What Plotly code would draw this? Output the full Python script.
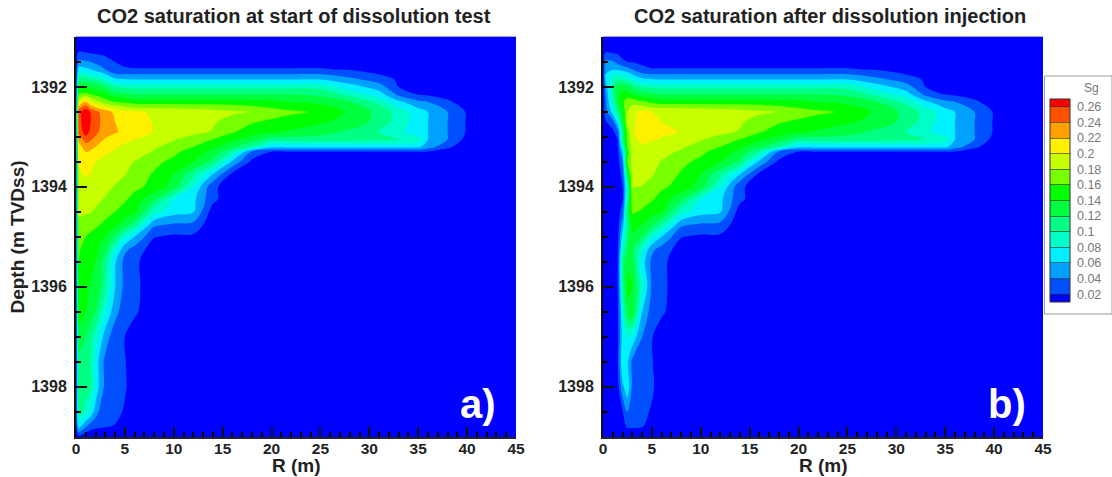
import numpy as np
import plotly.graph_objects as go

TITLE_A = "CO2 saturation at start of dissolution test"
TITLE_B = "CO2 saturation after dissolution injection"
LEVEL_LABELS = ["0.26", "0.24", "0.22", "0.2", "0.18", "0.16", "0.14", "0.12", "0.1", "0.08", "0.06", "0.04", "0.02"]
LEVEL_VALUES = [0.26, 0.24, 0.22, 0.20, 0.18, 0.16, 0.14, 0.12, 0.10, 0.08, 0.06, 0.04, 0.02]
BAND_COLORS = ["rgb(0,0,255)", "rgb(0,80,255)", "rgb(0,160,255)", "rgb(0,240,255)", "rgb(0,255,200)",
               "rgb(0,255,130)", "rgb(0,255,60)", "rgb(0,255,0)", "rgb(120,255,0)", "rgb(200,255,0)",
               "rgb(255,240,0)", "rgb(255,160,0)", "rgb(255,80,0)", "rgb(255,0,0)"]

depth = [1391, 1391.3, 1391.5, 1391.65, 1391.75, 1391.85, 1392, 1392.15, 1392.3, 1392.5, 1392.7, 1392.9,
         1393.05, 1393.2, 1393.3, 1393.5, 1393.75, 1394, 1394.25, 1394.5, 1394.75, 1395, 1395.25, 1395.5,
         1396, 1396.5, 1397, 1397.5, 1398, 1398.5, 1398.8, 1399]
r_near = [0, 0.25, 1, 1.5, 2, 2.5, 3, 4, 5, 6]
r_far = [8, 10, 12, 14, 16, 18, 20, 22, 25, 28, 31, 33, 35, 36, 38, 40, 41, 45]

# Sg in percent, one row per depth, R >= 8 m (same in both panels)
sg_far = [
 [.5]*18,
 [1]*10 + [.9, .8, .7, .6, .5, .5, .5, .5],
 [1.5]*9 + [1.4, 1, .8, .6, .5, .5, .5, .5, .5],
 [2.1]*9 + [1.9, 1.4, 1, .5, .5, .5, .5, .5, .5],
 [4.1]*9 + [3, 2, 1.3, .8, .5, .5, .5, .5, .5],
 [6]*9 + [4.6, 3, 1.7, 1, .8, .5, .5, .5, .5],
 [9.5]*9 + [7, 5, 2, 1.4, 1.2, .8, .5, .5, .5],
 [12, 12, 12, 12, 12, 12, 12, 12, 11.5, 9.5, 7, 3.5, 2, 1.7, 1.2, .6, .5, .5],
 [15, 15, 15, 15, 15, 14.7, 14.5, 14, 13.5, 12, 9.5, 6.5, 4.5, 4, 2.4, 1, .5, .5],
 [19.8, 19.5, 19.2, 18.8, 18.4, 17.9, 17, 16.4, 15.7, 13.6, 11.4, 9.2, 7, 6, 4, 1.8, .8, .5],
 [19.9, 19.5, 19, 18.3, 17, 16.2, 15.6, 15, 14.3, 13.3, 11.3, 9, 7, 6, 4, 1.8, .8, .5],
 [19.9, 19.3, 18.6, 17.8, 16.2, 15, 14.3, 13.7, 12.8, 11.5, 10, 8.5, 6.8, 6, 4, 1.8, .8, .5],
 [19, 18.2, 17, 16, 14.5, 13, 11, 11, 11, 11, 10.5, 10, 9, 6, 4, 1.3, .5, .5],
 [18.3, 17.2, 16, 14.5, 12.5, 10, 6.5, 6.5, 6.5, 6.5, 6.5, 6.5, 6.5, 5, 2.5, .6, .5, .5],
 [17.8, 16.5, 15, 13.5, 10, 3.5, 1.9, 1.9, 1.9, 1.9, 1.9, 1.9, 1.9, 1.8, .8, .5, .5, .5],
 [16.5, 15.5, 14, 11.5, 5.5, 1.5, .7, .5, .5, .5, .5, .5, .5, .5, .5, .5, .5, .5],
 [15.8, 14, 10.5, 6, 1.5, .6, .5, .5, .5, .5, .5, .5, .5, .5, .5, .5, .5, .5],
 [15.4, 13, 8, 2.5, .7, .5, .5, .5, .5, .5, .5, .5, .5, .5, .5, .5, .5, .5],
 [12.3, 8, 6.5, 2.5, .6, .5, .5, .5, .5, .5, .5, .5, .5, .5, .5, .5, .5, .5],
 [9, 6.8, 6.2, 1, .5, .5, .5, .5, .5, .5, .5, .5, .5, .5, .5, .5, .5, .5],
 [4.5, 3.8, 3.5, .6, .5, .5, .5, .5, .5, .5, .5, .5, .5, .5, .5, .5, .5, .5],
 [2.1, 1.6, 1.6, .5, .5, .5, .5, .5, .5, .5, .5, .5, .5, .5, .5, .5, .5, .5],
 [1] + [.5]*17,
 [.8] + [.5]*17,
 [.8] + [.5]*17,
 [.7] + [.5]*17,
 [.6] + [.5]*17,
 [.5]*18,
 [.5]*18,
 [.5]*18,
 [.5]*18,
 [.5]*18,
]

# Sg in percent near the well, R < 8 m, panel a
sg_near_a = [
 [.5]*10,
 [1.5, 2, 1.9, 1.7, 1.6, 1.5, 1.4, 1.2, 1.1, 1],
 [1, 4.5, 4.2, 4, 3.5, 3.2, 2.8, 2, 1.8, 1.6],
 [1, 7, 6.5, 6, 5.5, 4.7, 4, 2.3, 2.1, 2.1],
 [1, 9, 8.5, 8, 7.5, 7, 6.3, 4.3, 4.1, 4.1],
 [1, 11, 11, 10.5, 10, 9.5, 8.5, 6.5, 6.1, 6],
 [1, 14, 14, 13.5, 13, 12.5, 11.8, 10, 9.7, 9.5],
 [1, 16, 16.5, 16, 15.5, 15, 14.5, 13, 12.5, 12],
 [1, 19, 22.5, 20, 19, 18, 17, 16, 15.5, 15],
 [1, 25, 27.5, 25.8, 24.7, 23.7, 23, 21.5, 20.8, 20.2],
 [1, 25, 27.5, 26, 25, 24, 23.2, 22, 21.2, 20.5],
 [1, 24.5, 27, 25.5, 24.5, 23.7, 23, 22.2, 21.5, 20.8],
 [1, 22.5, 25, 24.2, 23.5, 22.5, 21.8, 21, 20.5, 20],
 [1, 21, 23, 22.8, 22, 21.3, 20.8, 20.2, 19.6, 19.2],
 [1, 20.5, 22, 21.5, 21, 20.7, 20.4, 19.8, 19.2, 18.9],
 [1, 20.2, 21, 20.8, 20, 19.6, 19.3, 18.9, 18.5, 17.9],
 [1, 19.5, 20.2, 19.9, 19.5, 19.2, 18.9, 18.4, 18.1, 17],
 [1, 19, 19.5, 19.3, 19, 18.8, 18.5, 17.9, 17, 16.5],
 [1, 18.8, 18.8, 18.6, 18.4, 18.2, 17.8, 17, 16.3, 15.3],
 [1, 18.4, 18.3, 18.1, 17.8, 17.2, 16.8, 16, 15, 14.4],
 [1, 17.4, 17, 16.8, 16.5, 16, 15.5, 14.6, 13, 11],
 [1, 16.5, 16, 15.5, 15, 14.5, 14, 11.8, 8.5, 6],
 [1, 16.2, 15.5, 15, 14.5, 13.7, 12.5, 8.5, 4.5, 3.2],
 [1, 16, 15.2, 14.6, 14, 12.5, 11, 6.2, 3.3, 2.4],
 [1, 15.5, 14.5, 13.8, 13, 12, 10.3, 6, 3.4, 2.5],
 [1, 15, 14, 13, 12, 10, 8, 4.7, 2.8, 2.3],
 [1, 13, 12, 10.7, 9, 7, 5, 2.8, 2, 1],
 [1, 11.5, 10.8, 10, 7.5, 5, 3.5, 2.7, 2.1, 1],
 [1, 11.5, 11, 10.2, 7.5, 5, 3.6, 2.8, 2.2, 1],
 [1, 11, 9.2, 7.5, 5, 3.5, 3, 2.5, 1.8, .8],
 [1, 7, 4.2, 2.9, 2.4, 2.2, 2.1, 1.9, 1.3, .7],
 [.5, 1.5, .5, .5, .5, .5, .5, .5, .5, .5],
]

# Sg in percent near the well, R < 8 m, panel b
sg_near_b = [
 [.5]*10,
 [1.5, 1.9, 1.7, 1.6, 1.5, 1.4, 1.3, 1.1, 1, 1],
 [1, 4.5, 4.2, 3.5, 2.2, 2, 1.9, 1.5, 1.4, 1.5],
 [1, 5.5, 5.8, 5.7, 5.5, 4.7, 4, 2.6, 2.1, 2.1],
 [1, 6, 8, 8, 7.5, 7, 6, 4.5, 4.1, 4.1],
 [1, 6, 9.5, 10, 10, 9, 8, 6.5, 6.1, 6],
 [1, 5, 10, 13, 13, 12.5, 11.5, 10, 9.7, 9.5],
 [1, 4, 10, 13.5, 15, 14.7, 14, 13, 12.5, 12],
 [1, 3.5, 9, 13, 15.5, 17.5, 17.3, 16.5, 15.5, 15],
 [1, 3, 7, 11, 14, 18, 19.5, 20.5, 20, 19.9],
 [1, 1.8, 3, 7, 13, 18.5, 19.7, 20.6, 20.3, 20],
 [1, 1.2, 1.6, 3, 11, 17, 19.8, 20.7, 20.6, 20.4],
 [1, 1, 1.3, 2, 11, 16.5, 19.5, 20.5, 20.2, 19.8],
 [1, 1, 1.2, 1.7, 8, 16, 19, 19.7, 19.3, 18.8],
 [1, 1, 1.1, 1.5, 6, 15, 18.8, 19.4, 19, 18.5],
 [1, 1, 1, 1.2, 4, 16, 18.6, 19, 18.5, 17.9],
 [1, 1, 1, 1.1, 2.5, 13, 18.3, 18.8, 18.2, 17.2],
 [1, 1, 1, 1, 2, 9, 18.1, 17.9, 17.2, 16.3],
 [1, 1, 1, 1, 1.8, 10, 17.3, 16.9, 16.2, 15.3],
 [1, 1, 1, 1, 3, 12, 16.3, 15.7, 14.8, 14],
 [1, 1, 1, 1, 5, 11, 14.5, 14, 12.5, 10.5],
 [1, 1, 1, 1.2, 7, 11.5, 13.7, 12, 8.5, 6],
 [1, 1, 1, 1.5, 9, 12, 12.5, 8.5, 4.5, 3.2],
 [1, 1, 1, 1.6, 11, 13.5, 13, 7, 3.5, 2.5],
 [1, 1, 1, 1.8, 10, 14.7, 14, 8.7, 3.6, 2.5],
 [1, 1, 1, 1.6, 8, 13, 13.8, 6, 3, 2.3],
 [1, 1, 1, 1.6, 7, 8.3, 7.5, 4, 2.1, 1],
 [1, 1, 1, 1.8, 8, 6.5, 3.5, 2.7, 2.1, 1],
 [1, 1, 1, 1.2, 5.5, 7.5, 3.5, 2.8, 2.3, 1],
 [1, 1, 1, 1, 1.9, 4, 3, 2.5, 1.8, .8],
 [.8, .8, .8, .8, 1.2, 2.3, 2.2, 2.1, 1.5, .7],
 [.5]*10,
]

W, H = 1112, 477
FONT = "Liberation Sans"
r_all = r_near + r_far
sg_a = np.hstack([np.array(sg_near_a), np.array(sg_far)]) / 100
sg_b = np.hstack([np.array(sg_near_b), np.array(sg_far)]) / 100
n_bands = len(BAND_COLORS)
colorscale = [[i / (n_bands - 1), c] for i, c in enumerate(BAND_COLORS)]
contours = dict(start=0.02, end=0.26, size=0.02, coloring="fill", showlines=False)
NB = "\u00a0"

fig = go.Figure()
fig.add_trace(go.Contour(x=r_all, y=depth, z=sg_a, xaxis="x", yaxis="y", contours=contours,
                         autocontour=False, colorscale=colorscale, line_width=0, showscale=False))
fig.add_trace(go.Contour(x=r_all, y=depth, z=sg_b, xaxis="x2", yaxis="y2", contours=contours,
                         autocontour=False, colorscale=colorscale, line_width=0, showscale=True,
                         colorbar=dict(
                             x=1044.5 / W, xanchor="left", xpad=5, y=1 - 93 / H, yanchor="top", ypad=6,
                             lenmode="pixels", len=215, thicknessmode="pixels", thickness=20,
                             bgcolor="rgba(0,0,0,0)", borderwidth=0,
                             outlinecolor="#333", outlinewidth=1,
                             tickvals=LEVEL_VALUES, ticktext=[NB + t for t in LEVEL_LABELS], ticks="inside", ticklen=20,
                             tickcolor="rgba(40,40,40,0.6)", tickwidth=1,
                             tickfont=dict(family=FONT, size=12.5, color="#777"))))


def axis_x(px0, px1, anchor):
    return dict(domain=[px0 / W, px1 / W], range=[0, 45], anchor=anchor, tickmode="linear", tick0=0, dtick=5,
                ticks="inside", ticklen=10, tickwidth=2, tickcolor="#111",
                minor=dict(dtick=1, tick0=0, ticks="inside", ticklen=5, tickwidth=1.5, tickcolor="#000"),
                showline=True, linecolor="#222", linewidth=2, showgrid=False, zeroline=False,
                tickfont=dict(family=FONT, size=15.5, color="#222", weight="bold"), ticklabelstandoff=-4)


def axis_y(anchor, title):
    return dict(domain=[1 - 437 / H, 1 - 37 / H], range=[1399.01, 1391], anchor=anchor,
                tickmode="linear", tick0=1392, dtick=2, ticks="inside", ticklen=11, tickwidth=2, tickcolor="#111",
                minor=dict(dtick=0.5, tick0=1391, ticks="inside", ticklen=5, tickwidth=1.5, tickcolor="#000"),
                showline=True, linecolor="#111", linewidth=2, showgrid=False, zeroline=False,
                tickfont=dict(family=FONT, size=16, color="#222", weight="bold"), ticklabelstandoff=4,
                title=dict(text=title, standoff=2, font=dict(family=FONT, size=19, color="#222")))


def note(text, px, py, size, color):
    return dict(text=text, x=px / W, y=1 - py / H, xref="paper", yref="paper", showarrow=False,
                font=dict(family=FONT, size=size, color=color), xanchor="center", yanchor="middle")


fig.update_layout(
    width=W, height=H, paper_bgcolor="white", plot_bgcolor="rgb(0,0,255)",
    margin=dict(l=0, r=0, t=0, b=0, autoexpand=False), showlegend=False,
    xaxis=axis_x(76, 516, "y"), yaxis=axis_y("x", "<b>Depth (m TVDss)</b>"),
    xaxis2=axis_x(603, 1043, "y2"), yaxis2=axis_y("x2", ""),
    annotations=[
        note("<b>" + TITLE_A + "</b>", 293.5, 16, 20, "#222"),
        note("<b>" + TITLE_B + "</b>", 829.5, 16, 20, "#222"),
        note("<b>R (m)</b>", 296, 465, 19, "#222"),
        note("<b>R (m)</b>", 823, 465, 19, "#222"),
        note("<b>a)</b>", 478, 404, 40, "white"),
        note("<b>b)</b>", 1007, 404, 40, "white"),
        note("Sg", 1091, 88, 12, "#777"),
    ],
    shapes=[
        dict(type="rect", xref="paper", yref="paper", x0=1044.5 / W, x1=1112 / W, y0=1 - 314 / H, y1=1 - 76 / H,
             line=dict(color="#999", width=1), fillcolor="white", layer="below"),
        dict(type="line", xref="paper", yref="paper", x0=76 / W, x1=516 / W, y0=1 - 36.5 / H, y1=1 - 36.5 / H,
             line=dict(color="#a8a8d8", width=1)),
        dict(type="line", xref="paper", yref="paper", x0=603 / W, x1=1043 / W, y0=1 - 36.5 / H, y1=1 - 36.5 / H,
             line=dict(color="#a8a8d8", width=1)),
    ],
)

fig.write_html("out.html", config={"displayModeBar": False}, post_script="document.body.style.margin='0';")
